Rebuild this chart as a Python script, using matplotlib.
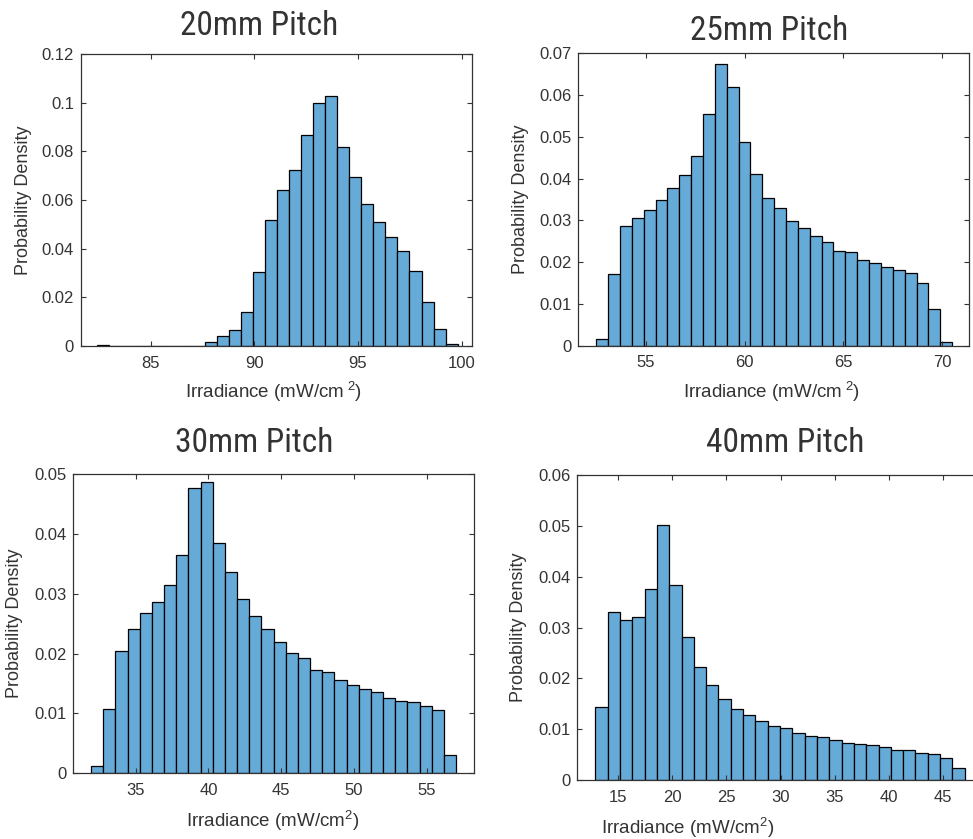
import numpy as np
import matplotlib
matplotlib.use('Agg')
import matplotlib.pyplot as plt
from matplotlib import font_manager
from matplotlib.ticker import FuncFormatter

# ---------------- data ----------------
titles = ['20mm Pitch', '25mm Pitch', '30mm Pitch', '40mm Pitch']

# bin range (first edge, last edge), 30 bins each
edges_20 = (82.4, 99.8)
edges_25 = (52.5, 70.5)
edges_30 = (31.93, 57.02)
edges_40 = (12.94, 46.97)

dens_20 = [0.0003, 0, 0, 0, 0, 0, 0, 0, 0,
           0.0018, 0.0042, 0.0064, 0.0138, 0.0305, 0.0518, 0.0641, 0.0725,
           0.0866, 0.0999, 0.1026, 0.0819, 0.0693, 0.0582, 0.0511, 0.0449,
           0.0390, 0.0307, 0.0179, 0.0068, 0.0008]
dens_25 = [0.0017, 0.0171, 0.0286, 0.0306, 0.0325, 0.0350, 0.0378, 0.0410,
           0.0455, 0.0556, 0.0675, 0.0619, 0.0487, 0.0412, 0.0354, 0.0331,
           0.0299, 0.0281, 0.0262, 0.0248, 0.0226, 0.0225, 0.0206, 0.0199,
           0.0189, 0.0182, 0.0175, 0.0151, 0.0088, 0.0010]
dens_30 = [0.0012, 0.0107, 0.0204, 0.0241, 0.0267, 0.0286, 0.0315, 0.0365,
           0.0476, 0.0487, 0.0384, 0.0336, 0.0292, 0.0262, 0.0241, 0.0219,
           0.0201, 0.0192, 0.0173, 0.0170, 0.0156, 0.0147, 0.0141, 0.0135,
           0.0126, 0.0121, 0.0119, 0.0112, 0.0105, 0.0030]
dens_40 = [0.0143, 0.0331, 0.0315, 0.0320, 0.0375, 0.0502, 0.0384, 0.0281,
           0.0223, 0.0186, 0.0159, 0.0140, 0.0127, 0.0117, 0.0107, 0.0102,
           0.0092, 0.0087, 0.0084, 0.0079, 0.0073, 0.0071, 0.0068, 0.0065,
           0.0060, 0.0060, 0.0054, 0.0051, 0.0043, 0.0023]

xticks_20 = [85, 90, 95, 100]
xticks_25 = [55, 60, 65, 70]
xticks_30 = [35, 40, 45, 50, 55]
xticks_40 = [15, 20, 25, 30, 35, 40, 45]

# ---------------- style ----------------
BAR = '#66aad7'
INK = '#333333'


def pick_font(names):
    for n in names:
        try:
            font_manager.findfont(n, fallback_to_default=False)
            return n
        except Exception:
            pass
    return None


BASE = pick_font(['Liberation Sans', 'Arial']) or 'DejaVu Sans'
NARROW = pick_font(['Liberation Sans Narrow', 'Roboto Condensed',
                    'Open Sans Condensed', 'DejaVu Sans Condensed'])
TITLE_FONT = NARROW or BASE
TITLE_SIZE = 24 if NARROW else 21

plt.rcParams['font.family'] = [BASE, 'DejaVu Sans']
plt.rcParams['mathtext.fontset'] = 'custom'
plt.rcParams['mathtext.rm'] = BASE
plt.rcParams['mathtext.it'] = BASE

fig = plt.figure(figsize=(9.73, 8.39), dpi=100)

# axes boxes in pixels: left, top, right, bottom
panels = [
    (81.0, 54.0, 471.7, 346.0, edges_20, dens_20, xticks_20, (81.64, 100.48),
     np.arange(0, 0.121, 0.02), 0.12, 259, 35),
    (578.3, 53.5, 969.3, 345.7, edges_25, dens_25, xticks_25, (51.59, 71.37),
     np.arange(0, 0.071, 0.01), 0.07, 769, 40),
    (73.3, 474.0, 474.0, 773.3, edges_30, dens_30, xticks_30, (30.71, 58.25),
     np.arange(0, 0.051, 0.01), 0.05, 254, 452),
    (577.3, 475.0, 982.4, 780.0, edges_40, dens_40, xticks_40, (11.28, 48.6),
     np.arange(0, 0.061, 0.01), 0.06, 785, 452),
]
xlabel_px = [274, 772, 272.5, 688]
xlabels = [r'Irradiance (mW/cm$^{\ 2}$)', r'Irradiance (mW/cm$^{\ 2}$)',
           r'Irradiance (mW/cm$^{2}$)', r'Irradiance (mW/cm$^{2}$)']

W, H = 973.0, 839.0
for i, (l, t, r, b, ed, dens, xt, xl, yt, ytop, tx, ty) in enumerate(panels):
    ax = fig.add_axes([l / W, 1 - b / H, (r - l) / W, (b - t) / H])
    n = len(dens)
    edges = np.linspace(ed[0], ed[1], n + 1)
    ax.bar(edges[:-1], dens, width=np.diff(edges), align='edge',
           color=BAR, edgecolor='black', linewidth=0.9)
    ax.set_xlim(*xl)
    ax.set_ylim(0, ytop)
    ax.set_xticks(xt)
    ax.set_yticks(yt)
    ax.yaxis.set_major_formatter(FuncFormatter(lambda v, p: '%g' % round(v, 4)))
    ax.tick_params(direction='in', length=3.5, width=0.8, color=INK,
                   labelcolor=INK, labelsize=12, top=True, right=True)
    ax.tick_params(axis='x', pad=7)
    ax.tick_params(axis='y', pad=5)
    for s in ax.spines.values():
        s.set_color(INK)
        s.set_linewidth(0.9)

    ax.set_ylabel('Probability Density', fontsize=13, color=INK)
    ax.yaxis.set_label_coords(-0.125, 0.5)
    ax.set_xlabel(xlabels[i], fontsize=13.5, color=INK)
    top_px = 380 if i < 2 else b + 36
    ax.xaxis.set_label_coords((xlabel_px[i] - l) / (r - l), (b - top_px) / (b - t))

    fig.text(tx / W, 1 - ty / H, titles[i], ha='center', va='baseline',
             fontsize=TITLE_SIZE, color=INK, family=[TITLE_FONT, 'DejaVu Sans'])

fig.savefig('out.png', dpi=100)
